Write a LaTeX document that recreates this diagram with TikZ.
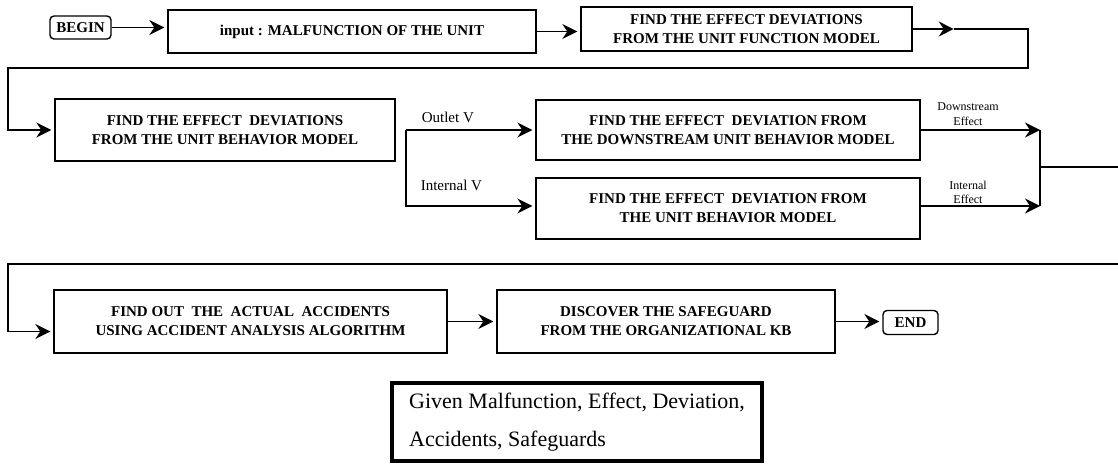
\documentclass[tikz,border=0pt]{standalone}
\usepackage{fontspec}
\setmainfont{Liberation Serif}
\usetikzlibrary{arrows.meta,positioning}

\begin{document}
\begin{tikzpicture}[x=1pt, y=-1pt, line width=1.6pt,
    block/.style={draw, line width=1.4pt, align=center, inner sep=0pt, font=\fontsize{15}{19}\selectfont\bfseries},
    term/.style={block, rounded corners=4pt},
    flow/.style={-{Stealth[length=15pt,width=15pt,inset=5pt]}, line width=1.6pt, shorten >=3pt},
    tag/.style={font=\fontsize{15}{17}\selectfont, inner sep=0pt},
    small tag/.style={font=\fontsize{12}{14.5}\selectfont, align=center, inner sep=1pt},
    legend/.style={draw, line width=4pt, align=left, font=\fontsize{22}{38}\selectfont}]
    \useasboundingbox (0,0) rectangle (1118,464);

    \node[term, minimum width=61pt, minimum height=23pt] (begin) at (80.5,27.5) {BEGIN};
    \node[block, minimum width=368pt, minimum height=43pt] (input) at (352,31.5) {input : MALFUNCTION OF THE UNIT};
    \node[block, minimum width=331pt, minimum height=44pt] (fm) at (746.5,29) {FIND THE EFFECT DEVIATIONS\\FROM THE UNIT FUNCTION MODEL};

    \node[block, minimum width=340pt, minimum height=62pt] (bm) at (225,130) {FIND THE EFFECT\ \ DEVIATIONS\\FROM THE UNIT BEHAVIOR MODEL};
    \node[block, minimum width=384pt, minimum height=60pt] (dbm) at (728,130) {FIND THE EFFECT\ \ DEVIATION FROM\\THE DOWNSTREAM UNIT BEHAVIOR MODEL};
    \node[block, minimum width=384pt, minimum height=61pt] (ubm) at (728,208.5) {FIND THE EFFECT\ \ DEVIATION FROM\\THE UNIT BEHAVIOR MODEL};

    \node[block, minimum width=393pt, minimum height=63pt] (acc) at (250.5,321.5) {FIND OUT\ \ THE\ \ ACTUAL\ \ ACCIDENTS\\USING ACCIDENT ANALYSIS ALGORITHM};
    \node[block, minimum width=338pt, minimum height=63pt] (safe) at (666,321.5) {DISCOVER THE SAFEGUARD\\FROM THE ORGANIZATIONAL KB};
    \node[term, minimum width=55pt, minimum height=24pt] (end) at (910.5,322.5) {END};

    \node[legend, minimum width=370pt, minimum height=78pt] (given) at (577,422) {Given Malfunction, Effect, Deviation,\\Accidents, Safeguards};

    \node[tag, anchor=south west] (outlet) at (421,124) {Outlet V};
    \node[tag, anchor=south west] (internal) at (420,191.5) {Internal V};
    \node[small tag, anchor=south] (dseff) at (968,127) {Downstream\\Effect};
    \node[small tag, anchor=south] (ineff) at (968,205.5) {Internal\\Effect};

    \coordinate (fork) at (406,130);
    \coordinate (dtip) at (1040,130);
    \coordinate (itip) at (1040,206);
    \coordinate (out2) at (1118,167);
    \coordinate (in3) at (1118,264);

    \draw[flow] (begin.east) -- (begin.east -| input.west);
    \draw[flow] (input.east) -- (input.east -| fm.west);
    \draw[flow, shorten >=0pt] (fm.east) -- ++(41pt,0) coordinate (fmtip);
    \draw[flow] (fmtip) -| (1028,68) -| (8,130) -- (bm.west);

    \draw[flow] (fork) -- (dbm.west);
    \draw[flow] (fork) |- ([yshift=2.5pt]ubm.west);

    \draw[flow, shorten >=0pt] (dbm.east) -- (dtip);
    \draw[flow, shorten >=0pt] ([yshift=2.5pt]ubm.east) -- (itip);
    \draw (dtip) -- (itip);
    \draw (dtip |- out2) -- (out2);

    \draw[flow] (in3) -- (8,264) |- ([yshift=-10pt]acc.west);
    \draw[flow] (acc.east) -- (safe.west);
    \draw[flow] (safe.east) -- (safe.east -| end.west);
\end{tikzpicture}
\end{document}
